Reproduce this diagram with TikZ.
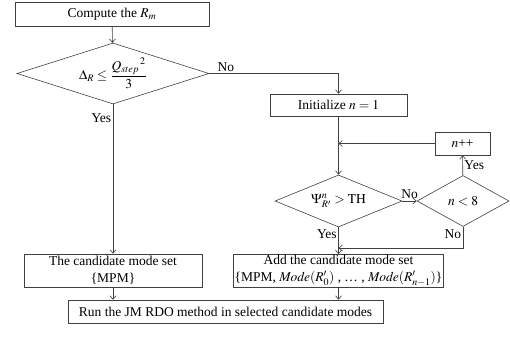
\documentclass[tikz,border=0pt]{standalone}
\usepackage{amsmath}
\usepackage{mathptmx}
\usepackage{fontspec}
\setmainfont{Liberation Serif}
\usepackage{tikz}
\usetikzlibrary{arrows.meta, shapes.geometric, positioning}

\tikzset{
  stepbox/.style={draw=black!75, line width=0.6pt, rectangle, inner sep=1pt, align=center},
  test/.style={draw=black!75, line width=0.6pt, diamond, aspect=2.5, inner sep=0pt},
  conn/.style={draw=black!75, line width=0.6pt},
  lbl/.style={inner sep=1.5pt}
}

\begin{document}
\begin{tikzpicture}[x=1pt, y=-1pt, >={Straight Barb[length=3.5pt,width=6pt]},
    font=\fontsize{13.5}{17}\selectfont]

    \useasboundingbox (0,0) rectangle (510,337);

    \node[stepbox, minimum width=194pt, minimum height=24pt] (comp) at (112,14) {Compute the $R_m$};
    \node[test, minimum width=192pt, minimum height=61pt] (d1) at (113,73.5)
        {$\Delta_{R} \leq \dfrac{{Q_{step}}^{\,2}}{3}$};
    \node[stepbox, minimum width=137pt, minimum height=22pt] (init) at (338.5,105) {Initialize $n = 1$};
    \node[stepbox, minimum width=55pt, minimum height=23pt] (npp) at (462.5,143.5) {$n$++};
    \node[test, minimum width=127pt, minimum height=52pt] (d2) at (338.5,201) {$\Psi^{n}_{R'} > \mathrm{TH}$};
    \node[test, minimum width=92pt, minimum height=51pt] (d3) at (463,201) {$n < 8$};
    \node[stepbox, minimum width=178pt, minimum height=33pt] (cand) at (113,270.5)
        {The candidate mode set\\ \{MPM\}};
    \node[stepbox, minimum width=203pt, minimum height=32pt] (add) at (338.5,271)
        {Add the candidate mode set\\ \{MPM, $\mathit{Mode}(R'_0)$ , \dots\ , $\mathit{Mode}(R'_{n-1})$\}};
    \node[stepbox, minimum width=315pt, minimum height=23pt] (run) at (225.5,311.5)
        {Run the JM RDO method in selected candidate modes};

    \coordinate (back) at (d3.south |- 0,248);

    \draw[conn, ->] (comp) -- (d1);
    \draw[conn, ->] (d1.east) -- node[lbl, pos=0.05, anchor=south west] {No} (init.north |- d1.east) -- (init);
    \draw[conn, ->] (d1) -- node[lbl, pos=0.09, anchor=east] {Yes} (cand);
    \draw[conn, ->] (init) -- (d2);
    \draw[conn, ->] (npp) -- (init.south |- npp.west);
    \draw[conn, ->] (d2) -- node[lbl, pos=0.5, anchor=south, yshift=1pt] {No} (d3);
    \draw[conn, ->] (d3) -- node[lbl, anchor=west] {Yes} (npp);
    \draw[conn, ->] (d3.south) -- node[lbl, pos=0.35, anchor=east] {No} (back) -- (d2.south |- back);
    \draw[conn, ->] (d2) -- node[lbl, pos=0.25, anchor=east] {Yes} (add);
    \draw[conn, ->] (cand) -- (cand.south |- run.north);
    \draw[conn, ->] (add) -- (add.south |- run.north);
\end{tikzpicture}
\end{document}
